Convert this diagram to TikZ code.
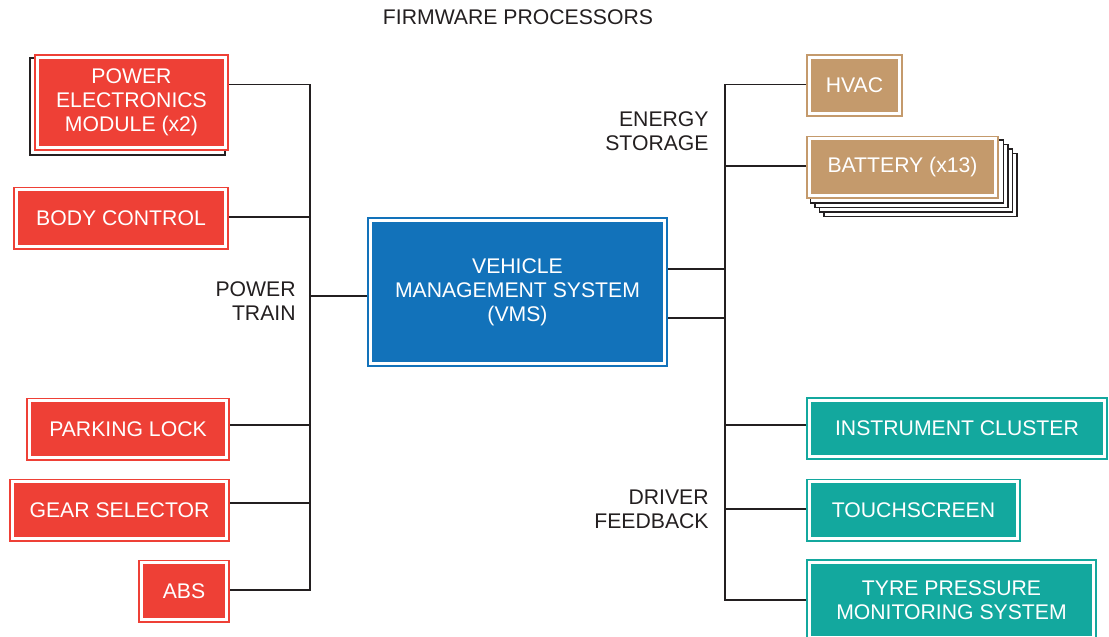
\documentclass[tikz,border=0pt]{standalone}
\usepackage{fontspec}
\setmainfont{Liberation Sans}
\usetikzlibrary{positioning,backgrounds}
\definecolor{fwred}{HTML}{EE4036}
\definecolor{fwblue}{HTML}{1272BA}
\definecolor{fwtan}{HTML}{C49A6C}
\definecolor{fwteal}{HTML}{13A89E}
\definecolor{fwline}{HTML}{231F20}
\begin{document}
\begin{tikzpicture}[x=0.5pt,y=-0.5pt,
  font=\fontsize{10.6}{12}\selectfont,
  unit/.style={draw=#1,fill=#1,double=white,line width=0.9pt,double distance=1.4pt,
    outer sep=1.6pt,inner sep=0pt,text=white,align=center,minimum height={63*0.5pt-3.2pt}},
  bw/.style={minimum width={#1*0.5pt-3.2pt}},
  bh/.style={minimum height={#1*0.5pt-3.2pt}},
  lbl/.style={anchor=east,align=right,inner sep=0pt,text=fwline},
  link/.style={draw=fwline,line width=0.65pt},
  stack/.style={draw=fwline,line width=0.65pt,fill=white}]
\useasboundingbox (0,0) rectangle (1109,637);
\node[text=fwline] (title) at (518,17) {FIRMWARE PROCESSORS};
% power train units
\node[unit=fwred,bw=195,bh=97,anchor=east] (pem) at (229,102.5) {POWER\\ELECTRONICS\\MODULE (x2)};
\node[unit=fwred,bw=216,anchor=east] (body) at (229,218) {BODY CONTROL};
\node[unit=fwred,bw=204,anchor=east] (park) at (230,429) {PARKING LOCK};
\node[unit=fwred,bw=221,anchor=east] (gear) at (230,510) {GEAR SELECTOR};
\node[unit=fwred,bw=92,anchor=east] (abs) at (230,591) {ABS};
% central unit
\node[unit=fwblue,bw=301,bh=150] (vms) at (517.5,292) {VEHICLE\\MANAGEMENT SYSTEM\\(VMS)};
% energy storage units
\node[unit=fwtan,bw=97,anchor=west] (hvac) at (806,85.5) {HVAC};
\node[unit=fwtan,bw=193,anchor=west] (batt) at (806,167) {BATTERY (x13)};
% driver feedback units
\node[unit=fwteal,bw=302,anchor=west] (clus) at (806,428.5) {INSTRUMENT CLUSTER};
\node[unit=fwteal,bw=215,anchor=west] (touch) at (806,510) {TOUCHSCREEN};
\node[unit=fwteal,bw=291,bh=82,anchor=west] (tpms) at (806,600) {TYRE PRESSURE\\MONITORING SYSTEM};
% group labels
\node[lbl] (ptlbl) at (296,301) {POWER\\TRAIN};
\node[lbl] (eslbl) at (709,131) {ENERGY\\STORAGE};
\node[lbl] (dflbl) at (709,509) {DRIVER\\FEEDBACK};
% stacked copies
\begin{scope}[on background layer]
  \draw[stack] ([shift={(-4,4)}]pem.south west) rectangle ([shift={(-4,4)}]pem.north east);
  \foreach \k in {4,3,2,1}
    \draw[stack] ([shift={(4.5*\k,4.5*\k)}]batt.south west) rectangle ([shift={(4.5*\k,4.5*\k)}]batt.north east);
\end{scope}
% buses
\coordinate (lbus) at (310,296);
\coordinate (rbus) at (725,296);
\draw[link] ([yshift=0.5pt]pem.east |- hvac.west) -| (lbus) |- ([yshift=0.5pt]abs.east);
\draw[link] ([yshift=0.5pt]body.east) -| (lbus);
\draw[link] ([yshift=2pt]park.east) -| (lbus);
\draw[link] ([yshift=3.5pt]gear.east) -| (lbus);
\draw[link] ([yshift=-2pt]vms.west) -- (lbus);
\draw[link] ([yshift=0.5pt]hvac.west) -| (rbus) |- (tpms.west);
\draw[link] ([yshift=0.5pt]batt.west) -| (rbus);
\draw[link] ([yshift=11.5pt]vms.east) -| (rbus);
\draw[link] ([yshift=-13pt]vms.east) -| (rbus);
\draw[link] ([yshift=1.75pt]clus.west) -| (rbus);
\draw[link] ([yshift=0.5pt]touch.west) -| (rbus);
\end{tikzpicture}
\end{document}
